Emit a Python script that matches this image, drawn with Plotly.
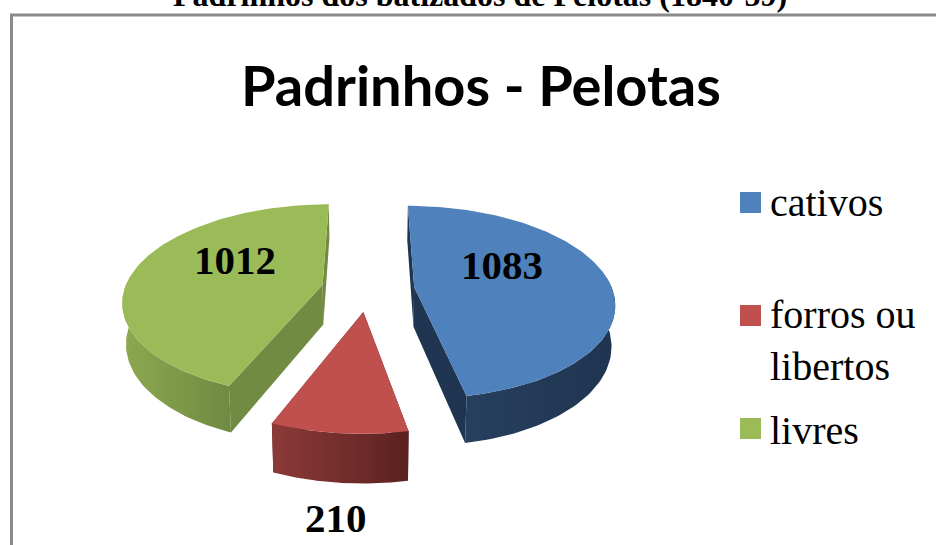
import numpy as np
import plotly.graph_objects as go

# Data
categories = ["cativos", "forros ou<br>libertos", "livres"]
values = [1083, 210, 1012]
value_labels = ["1083", "210", "1012"]
page_title = "Padrinhos dos batizados de Pelotas (1840-59)"
chart_title = "Padrinhos - Pelotas"

# Styles
top_colors = ["#4F81BD", "#C0504D", "#9BBB59"]
face_colors = ["#1F3552", "#5E2321", "#728B42"]
rim_left = ["#27405F", "#8C3A38", "#8CA950"]
rim_right = ["#1F3450", "#5A2220", "#6F8A42"]

# Projection of the exploded tilted pie
VX, VY = 368.0, 289.0
RX, RY = 198.0, 94.5
PERSP = 0.158
EXPLODE = 0.235
THICK = 40.0


def project(x, y, bottom=False):
    s = 1.0 / (1.0 - PERSP * y)
    sx = VX + RX * x * s * (0.985 if bottom else 1.0)
    sy = VY + RY * y * s + (THICK * s if bottom else 0.0)
    return sx, sy


fig = go.Figure()
total = sum(values)
start = 0.0
slices = []
for v in values:
    sweep = 2 * np.pi * v / total
    slices.append((start, start + sweep))
    start += sweep


def poly(xs, ys, color=None, grad=None):
    kw = dict(fillcolor=color) if grad is None else dict(
        fillgradient=dict(type="horizontal", colorscale=[[0, grad[0]], [1, grad[1]]]))
    fig.add_trace(go.Scatter(x=list(xs), y=list(ys), mode="lines", fill="toself",
                             line=dict(width=0), hoverinfo="skip", showlegend=False, **kw))


for i, (a, b) in enumerate(slices):
    mid = (a + b) / 2
    ox, oy = EXPLODE * np.sin(mid), -EXPLODE * np.cos(mid)
    th = np.linspace(a, b, 120)
    x = ox + np.sin(th)
    y = oy - np.cos(th)

    for k in (0, -1):  # radial side faces
        tx, ty = project(np.array([ox, x[k]]), np.array([oy, y[k]]))
        bx, by = project(np.array([x[k], ox]), np.array([y[k], oy]), bottom=True)
        poly(np.r_[tx, bx], np.r_[ty, by], color=face_colors[i])

    vis = y > -0.15  # rim side that faces the viewer
    tx, ty = project(x[vis], y[vis])
    bx, by = project(x[vis][::-1], y[vis][::-1], bottom=True)
    poly(np.r_[tx, bx], np.r_[ty, by], grad=(rim_left[i], rim_right[i]))

for i, (a, b) in enumerate(slices):
    mid = (a + b) / 2
    ox, oy = EXPLODE * np.sin(mid), -EXPLODE * np.cos(mid)
    th = np.linspace(a, b, 120)
    tx, ty = project(np.r_[ox, ox + np.sin(th)], np.r_[oy, oy - np.cos(th)])
    poly(tx, ty, color=top_colors[i])

SERIF = "Liberation Serif"
ann = [
    dict(x=480, y=15, text=f"<b>{page_title}</b>", font=dict(family=SERIF, size=32), yanchor="bottom"),
    dict(x=481, y=84, text=f"<b>{chart_title}</b>", font=dict(family="Lato", size=56), yanchor="middle"),
]
for txt, px, py in zip(value_labels, [502, 336, 235], [265, 518, 260]):
    ann.append(dict(x=px, y=py, text=f"<b>{txt}</b>", font=dict(family=SERIF, size=41), yanchor="middle"))
for txt, py in zip(categories, [202, 340, 430]):
    ann.append(dict(x=768, y=py, text=txt, font=dict(family=SERIF, size=40), xanchor="left",
                    yanchor="middle", align="left"))
for a_ in ann:
    a_.update(xref="x", yref="y", showarrow=False, font=dict(color="black", **a_["font"]))

shapes = [dict(type="rect", xref="x", yref="y", x0=11.5, y0=15, x1=1000, y1=600,
               line=dict(color="#8A8A8A", width=3), layer="below")]
for c, y0 in zip(top_colors, [192, 305, 418]):
    shapes.append(dict(type="rect", xref="x", yref="y", x0=740, x1=761, y0=y0, y1=y0 + 21,
                       fillcolor=c, line=dict(width=0)))

fig.update_layout(
    width=936, height=545, margin=dict(l=0, r=0, t=0, b=0),
    paper_bgcolor="white", plot_bgcolor="white", showlegend=False,
    xaxis=dict(range=[0, 936], visible=False, fixedrange=True),
    yaxis=dict(range=[545, 0], visible=False, fixedrange=True),
    annotations=ann, shapes=shapes,
)
fig.write_html("out.html", config=dict(displayModeBar=False),
               post_script="document.body.style.margin='0';document.body.style.overflow='hidden';")
